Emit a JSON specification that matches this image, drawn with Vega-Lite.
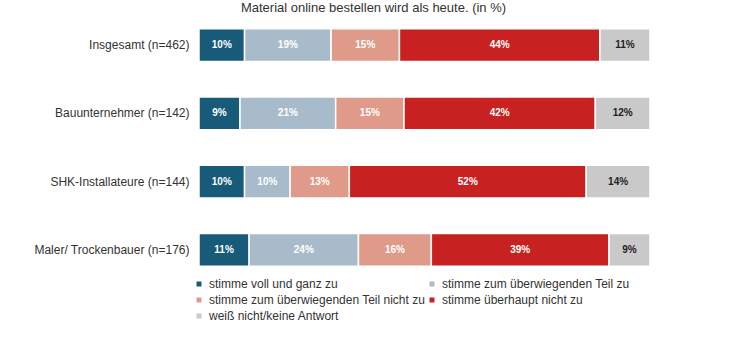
{
  "$schema": "https://vega.github.io/schema/vega-lite/v6.json",
  "width": 451,
  "height": 273,
  "autosize": "none",
  "padding": {"left": 199, "top": 11, "right": 80, "bottom": 56},
  "background": "white",
  "title": {
    "text": "Material online bestellen wird als heute. (in %)",
    "fontSize": 13,
    "fontWeight": "normal",
    "font": "Liberation Sans",
    "color": "#333333",
    "anchor": "middle",
    "baseline": "bottom",
    "offset": 2,
    "dx": -51,
    "dy": 19
  },
  "config": {
    "view": {"stroke": null},
    "font": "Liberation Sans"
  },
  "data": {
    "values": [
      {"group": "Insgesamt (n=462)", "cat": "stimme voll und ganz zu", "ord": 1, "value": 10, "label": "10%"},
      {"group": "Insgesamt (n=462)", "cat": "stimme zum überwiegenden Teil zu", "ord": 2, "value": 19, "label": "19%"},
      {"group": "Insgesamt (n=462)", "cat": "stimme zum überwiegenden Teil nicht zu", "ord": 3, "value": 15, "label": "15%"},
      {"group": "Insgesamt (n=462)", "cat": "stimme überhaupt nicht zu", "ord": 4, "value": 44, "label": "44%"},
      {"group": "Insgesamt (n=462)", "cat": "weiß nicht/keine Antwort", "ord": 5, "value": 11, "label": "11%"},
      {"group": "Bauunternehmer (n=142)", "cat": "stimme voll und ganz zu", "ord": 1, "value": 9, "label": "9%"},
      {"group": "Bauunternehmer (n=142)", "cat": "stimme zum überwiegenden Teil zu", "ord": 2, "value": 21, "label": "21%"},
      {"group": "Bauunternehmer (n=142)", "cat": "stimme zum überwiegenden Teil nicht zu", "ord": 3, "value": 15, "label": "15%"},
      {"group": "Bauunternehmer (n=142)", "cat": "stimme überhaupt nicht zu", "ord": 4, "value": 42, "label": "42%"},
      {"group": "Bauunternehmer (n=142)", "cat": "weiß nicht/keine Antwort", "ord": 5, "value": 12, "label": "12%"},
      {"group": "SHK-Installateure (n=144)", "cat": "stimme voll und ganz zu", "ord": 1, "value": 10, "label": "10%"},
      {"group": "SHK-Installateure (n=144)", "cat": "stimme zum überwiegenden Teil zu", "ord": 2, "value": 10, "label": "10%"},
      {"group": "SHK-Installateure (n=144)", "cat": "stimme zum überwiegenden Teil nicht zu", "ord": 3, "value": 13, "label": "13%"},
      {"group": "SHK-Installateure (n=144)", "cat": "stimme überhaupt nicht zu", "ord": 4, "value": 52, "label": "52%"},
      {"group": "SHK-Installateure (n=144)", "cat": "weiß nicht/keine Antwort", "ord": 5, "value": 14, "label": "14%"},
      {"group": "Maler/ Trockenbauer (n=176)", "cat": "stimme voll und ganz zu", "ord": 1, "value": 11, "label": "11%"},
      {"group": "Maler/ Trockenbauer (n=176)", "cat": "stimme zum überwiegenden Teil zu", "ord": 2, "value": 24, "label": "24%"},
      {"group": "Maler/ Trockenbauer (n=176)", "cat": "stimme zum überwiegenden Teil nicht zu", "ord": 3, "value": 16, "label": "16%"},
      {"group": "Maler/ Trockenbauer (n=176)", "cat": "stimme überhaupt nicht zu", "ord": 4, "value": 39, "label": "39%"},
      {"group": "Maler/ Trockenbauer (n=176)", "cat": "weiß nicht/keine Antwort", "ord": 5, "value": 9, "label": "9%"}
    ]
  },
  "encoding": {
    "y": {
      "field": "group",
      "type": "nominal",
      "sort": ["Insgesamt (n=462)", "Bauunternehmer (n=142)", "SHK-Installateure (n=144)", "Maler/ Trockenbauer (n=176)"],
      "scale": {"paddingInner": 0.52, "paddingOuter": 0.26},
      "axis": {
        "title": null,
        "domain": false,
        "ticks": false,
        "labelPadding": 10,
        "labelFontSize": 12,
        "labelColor": "#333333",
        "labelFont": "Liberation Sans"
      }
    },
    "order": {"field": "ord", "type": "quantitative", "sort": "ascending"}
  },
  "layer": [
    {
      "mark": {"type": "bar", "stroke": "white", "strokeWidth": 1.5},
      "encoding": {
        "x": {"field": "value", "type": "quantitative", "stack": "zero", "scale": {"domain": [0, 99], "nice": false, "zero": true}, "axis": null},
        "color": {
          "field": "cat",
          "type": "nominal",
          "sort": ["stimme voll und ganz zu", "stimme zum überwiegenden Teil zu", "stimme zum überwiegenden Teil nicht zu", "stimme überhaupt nicht zu", "weiß nicht/keine Antwort"],
          "scale": {
            "domain": ["stimme voll und ganz zu", "stimme zum überwiegenden Teil zu", "stimme zum überwiegenden Teil nicht zu", "stimme überhaupt nicht zu", "weiß nicht/keine Antwort"],
            "range": ["#175b78", "#a7bbca", "#e09a8a", "#c72121", "#c9c9c9"]
          },
          "legend": {
            "title": null,
            "orient": "none",
            "direction": "horizontal",
            "legendX": -6,
            "legendY": 267,
            "columns": 2,
            "columnPadding": 0,
            "rowPadding": 4,
            "padding": 0,
            "symbolType": "square",
            "symbolSize": 25,
            "symbolStrokeWidth": 0,
            "labelFontSize": 12,
            "labelColor": "#333333",
            "labelFont": "Liberation Sans",
            "labelOffset": 4,
            "labelLimit": 400
          }
        }
      }
    },
    {
      "mark": {"type": "text", "fontSize": 10, "fontWeight": "bold", "font": "Liberation Sans"},
      "encoding": {
        "x": {"field": "value", "type": "quantitative", "stack": "zero", "bandPosition": 0.5},
        "text": {"field": "label", "type": "nominal"},
        "color": {
          "condition": {"test": "datum.ord === 5", "value": "#222222"},
          "value": "white"
        }
      }
    }
  ]
}
